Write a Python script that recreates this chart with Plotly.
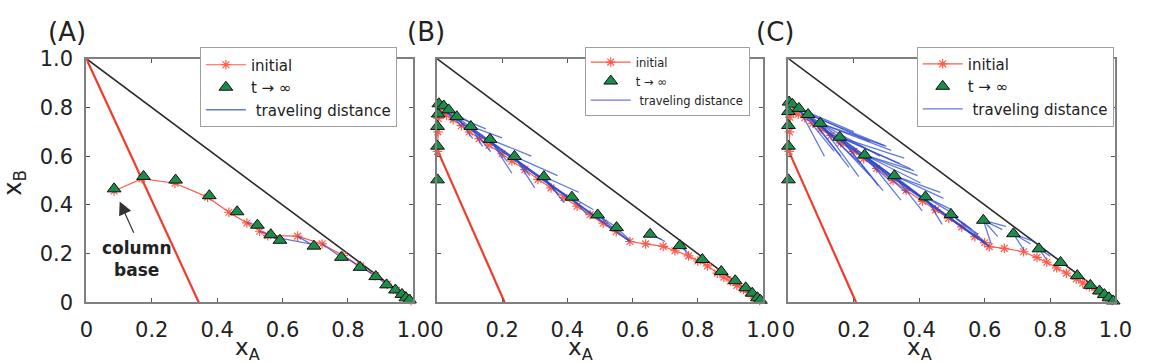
import plotly.graph_objects as go

W, H = 1156, 363
FONT = "DejaVu Sans, Verdana, sans-serif"

# ---------------- data ----------------
tick_vals = [0, 0.2, 0.4, 0.6, 0.8, 1.0]
tick_text = ["0", "0.2", "0.4", "0.6", "0.8", "1.0"]

# reference lines (endpoints)
diag_x = [0.0, 1.0]
diag_y = [1.0, 0.0]
a_base_x = [0.0, 0.344]
a_base_y = [1.0, 0.0]
b_base_x = [0.0, 0.208]
b_base_y = [0.63, 0.0]
c_base_x = [0.0, 0.207]
c_base_y = [0.624, 0.0]

# Panel A
a_init_x = [0.085, 0.170, 0.271, 0.371, 0.436, 0.491, 0.530, 0.555, 0.646, 0.721, 0.785,
            0.838, 0.884, 0.920, 0.948, 0.968, 0.982, 0.993]
a_init_y = [0.457, 0.508, 0.489, 0.432, 0.370, 0.326, 0.292, 0.274, 0.272, 0.240, 0.192,
            0.150, 0.110, 0.075, 0.050, 0.032, 0.018, 0.007]
a_fin_x = [0.085, 0.175, 0.273, 0.376, 0.461, 0.523, 0.564, 0.592, 0.696, 0.780, 0.837,
           0.885, 0.918, 0.945, 0.965, 0.977, 0.988]
a_fin_y = [0.466, 0.517, 0.502, 0.438, 0.372, 0.317, 0.278, 0.255, 0.231, 0.185, 0.144,
           0.106, 0.072, 0.051, 0.033, 0.019, 0.010]
a_travel = [(0.491, 0.326, 0.523, 0.317), (0.530, 0.292, 0.564, 0.278), (0.555, 0.274, 0.592, 0.255),
            (0.646, 0.272, 0.696, 0.231), (0.721, 0.240, 0.780, 0.185), (0.785, 0.192, 0.837, 0.144),
            (0.838, 0.150, 0.885, 0.106), (0.884, 0.110, 0.918, 0.072), (0.920, 0.075, 0.945, 0.051),
            (0.948, 0.050, 0.965, 0.033), (0.968, 0.032, 0.977, 0.019), (0.600, 0.262, 0.700, 0.236)]

# Panel B
b_init_x = [0.002, 0.003, 0.004, 0.006, 0.015, 0.030, 0.050, 0.075, 0.100, 0.130, 0.160, 0.200,
            0.230, 0.270, 0.310, 0.350, 0.390, 0.430, 0.470, 0.510, 0.550, 0.592, 0.640, 0.694,
            0.730, 0.772, 0.800, 0.830, 0.860, 0.880, 0.900, 0.920, 0.940, 0.955, 0.970, 0.980, 0.990]
b_init_y = [0.620, 0.700, 0.755, 0.780, 0.775, 0.768, 0.750, 0.725, 0.700, 0.672, 0.645, 0.610,
            0.580, 0.545, 0.505, 0.470, 0.430, 0.395, 0.360, 0.325, 0.290, 0.250, 0.240, 0.230,
            0.212, 0.191, 0.170, 0.150, 0.120, 0.104, 0.088, 0.070, 0.054, 0.041, 0.028, 0.018, 0.008]
b_fin_x = [0.002, 0.002, 0.002, 0.004, 0.006, 0.021, 0.036, 0.061, 0.104, 0.163, 0.238, 0.328,
           0.414, 0.493, 0.551, 0.654, 0.745, 0.814, 0.872, 0.915, 0.947, 0.967, 0.983, 0.992]
b_fin_y = [0.503, 0.641, 0.722, 0.773, 0.815, 0.806, 0.790, 0.762, 0.722, 0.669, 0.599, 0.516,
           0.432, 0.359, 0.307, 0.280, 0.233, 0.176, 0.127, 0.089, 0.060, 0.038, 0.019, 0.009]
b_travel = [(0.021, 0.806, 0.070, 0.760), (0.021, 0.806, 0.050, 0.745),
            (0.036, 0.790, 0.100, 0.740), (0.036, 0.790, 0.075, 0.720),
            (0.061, 0.762, 0.150, 0.712), (0.061, 0.762, 0.110, 0.672),
            (0.104, 0.722, 0.200, 0.675), (0.104, 0.722, 0.165, 0.618), (0.104, 0.722, 0.140, 0.640),
            (0.163, 0.669, 0.290, 0.600), (0.163, 0.669, 0.230, 0.530), (0.163, 0.669, 0.215, 0.580),
            (0.238, 0.599, 0.370, 0.520), (0.238, 0.599, 0.300, 0.470), (0.238, 0.599, 0.285, 0.520),
            (0.328, 0.516, 0.435, 0.452), (0.328, 0.516, 0.390, 0.410), (0.328, 0.516, 0.372, 0.440),
            (0.414, 0.432, 0.480, 0.380), (0.414, 0.432, 0.460, 0.360),
            (0.493, 0.359, 0.560, 0.300), (0.493, 0.359, 0.590, 0.252),
            (0.551, 0.307, 0.592, 0.255), (0.654, 0.280, 0.690, 0.258), (0.654, 0.280, 0.700, 0.250),
            (0.745, 0.233, 0.772, 0.200), (0.745, 0.233, 0.765, 0.212),
            (0.030, 0.780, 0.592, 0.250), (0.061, 0.760, 0.550, 0.292), (0.104, 0.718, 0.500, 0.340),
            (0.020, 0.790, 0.400, 0.432)]

# Panel C
c_init_x = [0.002, 0.003, 0.004, 0.006, 0.015, 0.030, 0.050, 0.075, 0.100, 0.130, 0.160, 0.200,
            0.230, 0.270, 0.320, 0.360, 0.410, 0.450, 0.490, 0.530, 0.570, 0.600, 0.614, 0.660,
            0.719, 0.760, 0.790, 0.820, 0.850, 0.880, 0.900, 0.920, 0.940, 0.955, 0.970, 0.980, 0.990]
c_init_y = [0.620, 0.700, 0.760, 0.785, 0.780, 0.772, 0.758, 0.735, 0.712, 0.685, 0.655, 0.620,
            0.590, 0.550, 0.500, 0.460, 0.415, 0.380, 0.345, 0.310, 0.270, 0.245, 0.229, 0.222,
            0.208, 0.185, 0.165, 0.142, 0.120, 0.096, 0.080, 0.065, 0.050, 0.038, 0.026, 0.017, 0.008]
c_fin_x = [0.000, 0.000, 0.000, 0.000, 0.002, 0.012, 0.032, 0.060, 0.097, 0.157, 0.233, 0.324,
           0.419, 0.497, 0.596, 0.688, 0.766, 0.832, 0.883, 0.923, 0.951, 0.966, 0.980, 0.993]
c_fin_y = [0.503, 0.641, 0.726, 0.783, 0.822, 0.813, 0.796, 0.771, 0.735, 0.678, 0.605, 0.520,
           0.433, 0.361, 0.337, 0.282, 0.220, 0.164, 0.110, 0.070, 0.047, 0.032, 0.019, 0.006]
c_travel = [(0.032, 0.796, 0.200, 0.700), (0.032, 0.796, 0.140, 0.620), (0.032, 0.796, 0.110, 0.600),
            (0.060, 0.771, 0.294, 0.643), (0.060, 0.771, 0.220, 0.570), (0.060, 0.771, 0.185, 0.554),
            (0.060, 0.771, 0.160, 0.600), (0.045, 0.785, 0.250, 0.660),
            (0.097, 0.735, 0.314, 0.624), (0.097, 0.735, 0.280, 0.600), (0.097, 0.735, 0.215, 0.516),
            (0.097, 0.735, 0.250, 0.520), (0.097, 0.735, 0.300, 0.640),
            (0.157, 0.678, 0.354, 0.592), (0.157, 0.678, 0.374, 0.548), (0.157, 0.678, 0.289, 0.459),
            (0.157, 0.678, 0.310, 0.500), (0.157, 0.678, 0.275, 0.478), (0.157, 0.678, 0.340, 0.570),
            (0.233, 0.605, 0.384, 0.541), (0.233, 0.605, 0.404, 0.490), (0.233, 0.605, 0.344, 0.420),
            (0.233, 0.605, 0.360, 0.450), (0.233, 0.605, 0.395, 0.520),
            (0.324, 0.520, 0.464, 0.452), (0.324, 0.520, 0.474, 0.427), (0.324, 0.520, 0.409, 0.376),
            (0.324, 0.520, 0.440, 0.400),
            (0.419, 0.433, 0.500, 0.380), (0.419, 0.433, 0.520, 0.350), (0.419, 0.433, 0.470, 0.320),
            (0.497, 0.361, 0.560, 0.300), (0.497, 0.361, 0.600, 0.250), (0.497, 0.361, 0.580, 0.280),
            (0.596, 0.337, 0.654, 0.299), (0.596, 0.337, 0.640, 0.270), (0.596, 0.337, 0.620, 0.240),
            (0.596, 0.337, 0.665, 0.312),
            (0.688, 0.282, 0.740, 0.240), (0.688, 0.282, 0.720, 0.215), (0.688, 0.282, 0.750, 0.250),
            (0.766, 0.220, 0.800, 0.190), (0.766, 0.220, 0.790, 0.175),
            (0.030, 0.785, 0.614, 0.229), (0.060, 0.771, 0.600, 0.245), (0.157, 0.678, 0.570, 0.270),
            (0.012, 0.805, 0.450, 0.390), (0.233, 0.600, 0.614, 0.232)]

# ---------------- layout geometry (pixels) ----------------
x_dom_px = [(81, 415), (439, 772), (798, 1132)]
y_dom_px = (50, 311)

RED_LINE = "#f03c2c"
RED_INIT = "#ff5a4a"
GREEN = "#1d8c4a"
BLUE = "rgba(40,70,205,0.72)"

fig = go.Figure()

panels = [
    dict(ix=a_init_x, iy=a_init_y, fx=a_fin_x, fy=a_fin_y, tr=a_travel, bx=a_base_x, by=a_base_y),
    dict(ix=b_init_x, iy=b_init_y, fx=b_fin_x, fy=b_fin_y, tr=b_travel, bx=b_base_x, by=b_base_y),
    dict(ix=c_init_x, iy=c_init_y, fx=c_fin_x, fy=c_fin_y, tr=c_travel, bx=c_base_x, by=c_base_y),
]
legend_names = ["legend", "legend2", "legend3"]

for i, p in enumerate(panels):
    xa = "x" if i == 0 else f"x{i+1}"
    ya = "y" if i == 0 else f"y{i+1}"
    lg = legend_names[i]
    fig.add_trace(go.Scatter(x=diag_x, y=diag_y, mode="lines", line=dict(color="#2b2b2b", width=1.6),
                             xaxis=xa, yaxis=ya, showlegend=False, cliponaxis=False, hoverinfo="skip"))
    fig.add_trace(go.Scatter(x=p["bx"], y=p["by"], mode="lines", line=dict(color=RED_LINE, width=2.2),
                             xaxis=xa, yaxis=ya, showlegend=False, cliponaxis=False, hoverinfo="skip"))
    fig.add_trace(go.Scatter(x=p["ix"], y=p["iy"], mode="lines+markers", name="initial",
                             line=dict(color=RED_INIT, width=1.2),
                             marker=dict(symbol="asterisk-open", size=8, color=RED_INIT,
                                         line=dict(color=RED_INIT, width=1.2)),
                             xaxis=xa, yaxis=ya, legend=lg, cliponaxis=False, legendrank=1))
    sx, sy = [], []
    for (x0, y0, x1, y1) in p["tr"]:
        sx += [x0, x1, None]
        sy += [y0, y1, None]
    fig.add_trace(go.Scatter(x=sx, y=sy, mode="lines", name="\u00a0traveling distance",
                             line=dict(color=BLUE, width=1.3),
                             xaxis=xa, yaxis=ya, legend=lg, cliponaxis=False, legendrank=3))
    fig.add_trace(go.Scatter(x=p["fx"], y=p["fy"], mode="markers", name="t \u2192 \u221e",
                             marker=dict(symbol="triangle-up", size=12, color=GREEN,
                                         line=dict(color="#111", width=1)),
                             xaxis=xa, yaxis=ya, legend=lg, cliponaxis=False, legendrank=2))

axis_common = dict(range=[0, 1], showgrid=False, zeroline=False, showline=True,
                   linecolor="#808080", linewidth=2, mirror="ticks", ticks="inside",
                   ticklen=4, tickcolor="#555", tickvals=tick_vals, ticktext=tick_text,
                   tickfont=dict(family=FONT, size=21, color="#222"), fixedrange=True)

layout = dict(width=W, height=H, margin=dict(l=0, r=0, t=0, b=0),
              paper_bgcolor="white", plot_bgcolor="white",
              font=dict(family=FONT, color="#222"))

for i in range(3):
    xk = "xaxis" if i == 0 else f"xaxis{i+1}"
    yk = "yaxis" if i == 0 else f"yaxis{i+1}"
    ya = "y" if i == 0 else f"y{i+1}"
    xa = "x" if i == 0 else f"x{i+1}"
    x0, x1 = x_dom_px[i]
    layout[xk] = dict(axis_common, domain=[x0 / W, x1 / W], anchor=ya, ticklabelstandoff=7)
    layout[yk] = dict(axis_common, domain=[1 - y_dom_px[1] / H, 1 - y_dom_px[0] / H], anchor=xa,
                      showticklabels=(i == 0), ticklabelstandoff=7)

leg_common = dict(xanchor="left", yanchor="top", bgcolor="white", bordercolor="#a0a0a0",
                  borderwidth=1, itemwidth=40, tracegroupgap=0, traceorder="normal")
layout["legend"] = dict(leg_common, x=197 / W, y=1 - 38 / H, font=dict(family=FONT, size=15, color="#222"))
layout["legend2"] = dict(leg_common, x=590 / W, y=1 - 37 / H, font=dict(family=FONT, size=11.5, color="#222"))
layout["legend3"] = dict(leg_common, x=929 / W, y=1 - 37 / H, font=dict(family=FONT, size=15, color="#222"))

annotations = []
for lab, cx in [("(A)", 61), ("(B)", 428), ("(C)", 784)]:
    annotations.append(dict(text=lab, x=cx / W, y=1 - 21 / H, xref="paper", yref="paper",
                            xanchor="center", yanchor="middle", showarrow=False,
                            font=dict(family=FONT, size=26, color="#222")))
for cx in [246, 586, 932]:
    annotations.append(dict(text="x<sub>A</sub>", x=cx / W, y=1 - 361 / H, xref="paper", yref="paper",
                            xanchor="center", yanchor="middle", showarrow=False,
                            font=dict(family=FONT, size=23, color="#222")))
annotations.append(dict(text="x<sub>B</sub>", x=8 / W, y=1 - 183 / H, xref="paper", yref="paper",
                        xanchor="center", yanchor="middle", showarrow=False, textangle=-90,
                        font=dict(family=FONT, size=24, color="#222")))
annotations.append(dict(text="<b>column<br>base</b>", x=0.156, y=0.180, xref="x", yref="y",
                        showarrow=False, font=dict(family=FONT, size=17, color="#222")))
annotations.append(dict(text="", x=0.102, y=0.414, ax=0.147, ay=0.28, xref="x", yref="y",
                        axref="x", ayref="y", showarrow=True, arrowhead=2, arrowsize=2.2,
                        arrowwidth=1.2, arrowcolor="#333"))
layout["annotations"] = annotations

fig.update_layout(**layout)
fig.write_html("out.html")
